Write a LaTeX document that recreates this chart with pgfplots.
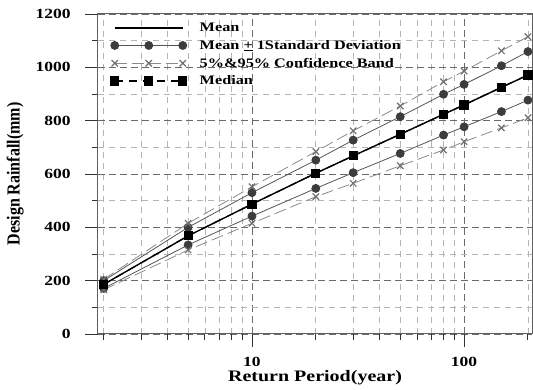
\documentclass[border=0pt]{standalone}
\usepackage{fontspec}
\setmainfont[FakeStretch=1.25]{Liberation Serif}
\newfontfamily\ylabfont{Liberation Serif}
\usepackage{graphicx}
\usepackage{pgfplots}
\pgfplotsset{compat=1.18}
\definecolor{sdline}{HTML}{555555}
\definecolor{sdmark}{HTML}{3C3C3C}
\definecolor{ciline}{HTML}{8A8A8A}
\definecolor{cimark}{HTML}{707070}
\definecolor{majgrid}{HTML}{6A6A6A}
\definecolor{mingrid}{HTML}{B4B4B4}
\definecolor{spine}{HTML}{606060}
\begin{document}
\begin{tikzpicture}
\begin{axis}[
  scale only axis,
  width=434pt, height=320pt,
  xmode=log, log basis x=10,
  xmin=1.88, xmax=209,
  ymin=0, ymax=1200,
  xtick={10,100},
  xticklabels={10,100},
  minor xtick={2,3,4,5,6,7,8,9,20,30,40,50,60,70,80,90,200},
  ytick={0,200,400,600,800,1000,1200},
  minor ytick={100,300,500,700,900,1100},
  tick align=outside,
  major tick length=13pt,
  minor tick length=6pt,
  xtick pos=bottom, ytick pos=left,
  axis line style={spine, line width=1pt},
  every tick/.style={black!80, line width=0.9pt},
  grid=both,
  major grid style={majgrid, dashed, dash pattern=on 7pt off 4pt, line width=0.8pt},
  minor grid style={mingrid, dashed, dash pattern=on 6pt off 5pt, line width=0.7pt},
  /pgf/number format/assume math mode=true,
  /pgf/number format/1000 sep={},
  tick label style={font=\fontsize{14}{16}\selectfont\bfseries},
  xticklabel style={yshift=-7pt},
  yticklabel style={xshift=-11pt},
  log ticks with fixed point,
  xlabel={\fontsize{16}{18}\selectfont\bfseries Return Period(year)},
  ylabel={\scalebox{1}[1.15]{\fontsize{16}{18}\selectfont\ylabfont\fontsize{16}{18}\selectfont\bfseries Design Rainfall(mm)}},
  xlabel style={yshift=3pt},
  ylabel shift=5pt,
  legend style={draw=none, fill=none, at={(rel axis cs:0.022,0.985)}, anchor=north west,
    font=\fontsize{13}{15}\selectfont\bfseries, row sep=3.2pt,
    /tikz/every odd column/.append style={column sep=11pt}},
  legend cell align=left,
  legend image code/.code={\draw[#1] plot coordinates {(0pt,0pt) (34pt,0pt) (68pt,0pt)};},
]
% Mean
\addplot[black, line width=1.4pt] coordinates {
(2,186) (5,368) (10,487) (20,603) (30,668) (50,749) (80,824) (100,859) (150,925) (200,971)};
\addlegendentry{Mean}
% Mean +/- SD
\addplot[sdline, line width=0.8pt, mark=*, mark size=4pt, mark options={solid, fill=sdmark, draw=sdmark}] coordinates {
(2,200) (5,400) (10,530) (20,652) (30,727) (50,815) (80,899) (100,936) (150,1006) (200,1059)};
\addlegendentry{Mean \underline{+} 1Standard Deviation}
\addplot[sdline, line width=0.8pt, mark=*, mark size=4pt, mark options={solid, fill=sdmark, draw=sdmark}, forget plot] coordinates {
(2,171) (5,334) (10,442) (20,546) (30,605) (50,677) (80,746) (100,777) (150,834) (200,877)};
% Confidence band
\addplot[ciline, line width=0.8pt, dash pattern=on 12pt off 5pt, mark=x, mark size=4.5pt, mark options={solid, cimark, line width=1.2pt}] coordinates {
(2,205) (5,415) (10,552) (20,684) (30,762) (50,855) (80,946) (100,986) (150,1062) (200,1115)};
\addlegendentry{5\%\&95\% Confidence Band}
\addplot[ciline, line width=0.8pt, dash pattern=on 12pt off 5pt, mark=x, mark size=4.5pt, mark options={solid, cimark, line width=1.2pt}, forget plot] coordinates {
(2,166) (5,315) (10,415) (20,515) (30,565) (50,631) (80,690) (100,721) (150,773) (200,811)};
% Median
\addplot[black, line width=1.2pt, dash pattern=on 8pt off 6pt, mark=square*, mark size=4pt, mark options={solid, fill=black}] coordinates {
(2,186) (5,368) (10,487) (20,603) (30,668) (50,749) (80,824) (100,859) (150,925) (200,971)};
\addlegendentry{Median}
\end{axis}
\path (current axis.south west) ++(-98pt,-56pt) coordinate (bbsw);
\path (current axis.north east) ++(1pt,14pt) coordinate (bbne);
\path[use as bounding box] (bbsw) rectangle (bbne);
\end{tikzpicture}
\end{document}
